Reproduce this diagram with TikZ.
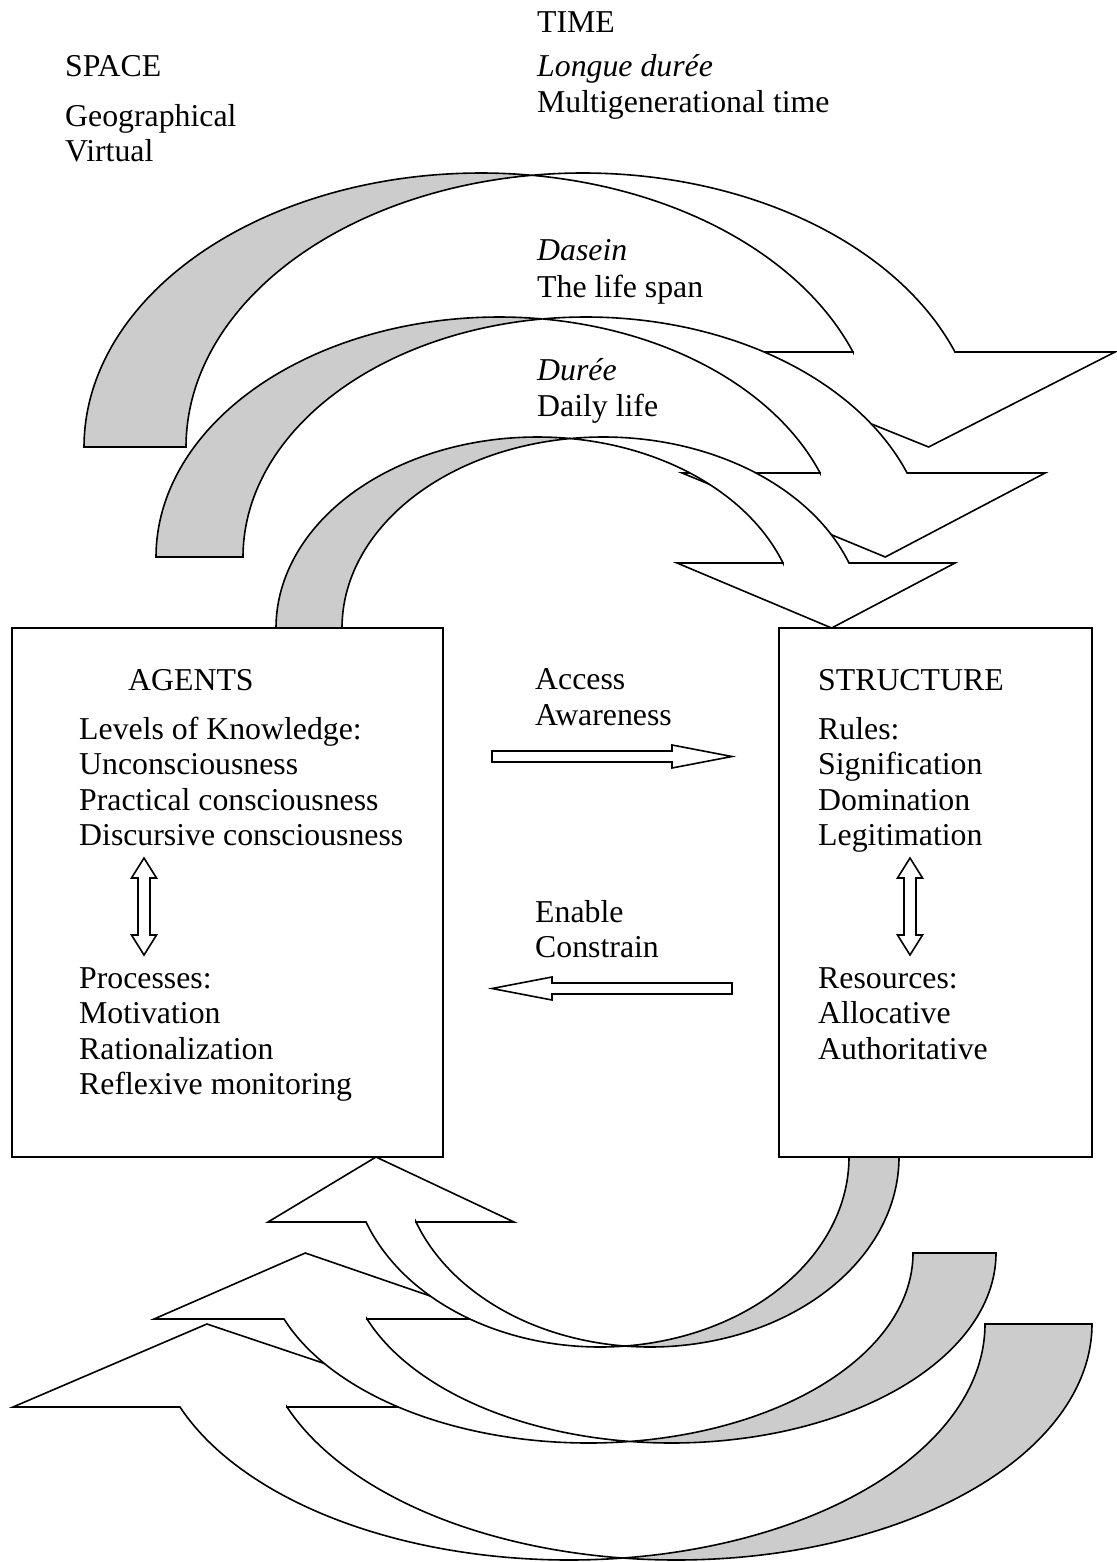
\documentclass[tikz,border=0pt]{standalone}
\usepackage{fontspec}
\setmainfont{Liberation Serif}
\definecolor{bandgray}{gray}{0.8}
\tikzset{
  txt/.style={anchor=base west, inner sep=0pt, font=\fontsize{31.8}{36}\selectfont},
  itxt/.style={anchor=base west, inner sep=0pt, font=\fontsize{31.8}{36}\selectfont\itshape},
  boxnode/.style={draw, line width=1.6pt, rectangle, inner sep=0pt},
  backband/.style={fill=bandgray, draw=black, line width=1.6pt, line join=miter},
  frontband/.style={fill=white, draw=black, line width=1.6pt, line join=miter},
  blockarrow/.style={fill=white, draw=black, line width=1.6pt, line join=miter}
}
% curved arrow: #1 cx, #2 cy, #3 a, #4 b, #5 band, #6 head-base offset, #7 head overhang, #8 rotation
\newcommand{\crvarrow}[8]{%
  \pgfmathsetmacro{\crvta}{acos(#5/(2*#3))}%
  \pgfmathsetmacro{\crvtb}{180-\crvta}%
  \pgfmathsetmacro{\crvth}{asin(#6/#4)}%
  \pgfmathsetmacro{\crvib}{#3*cos(\crvth)}%
  \pgfmathsetmacro{\crvob}{#5+#3*cos(\crvth)}%
  \begin{scope}[shift={(#1,#2)},rotate=#8]
    \path[backband] plot[domain=180:\crvta,samples=90] ({#3*cos(\x)},{-#4*sin(\x)})
      -- plot[domain=\crvtb:180,samples=90] ({#5+#3*cos(\x)},{-#4*sin(\x)}) -- cycle;
    \path[frontband] plot[domain=\crvtb:\crvth,samples=120] ({#5+#3*cos(\x)},{-#4*sin(\x)})
      -- ({\crvob+#7},{-#6}) -- ({#3+#5/2},0) -- ({\crvib-#7},{-#6}) -- ({\crvib},{-#6})
      -- plot[domain=\crvth:\crvta,samples=120] ({#3*cos(\x)},{-#4*sin(\x)}) -- cycle;
  \end{scope}}
% vertical double arrow: #1 x, #2 top, #3 bottom
\newcommand{\vdarrow}[3]{%
  \path[blockarrow] (#1,#2) -- ++(12.5,20) -- ++(-6.5,0) -- (#1+6,#3-20) -- ++(6.5,0) -- (#1,#3)
    -- ++(-12.5,-20) -- ++(6.5,0) -- (#1-6,#2+20) -- ++(-6.5,0) -- cycle;}
\begin{document}
\begin{tikzpicture}[x=1pt,y=-1pt]
\useasboundingbox (0,0) rectangle (1116,1562);

% top curved arrows (time scales)
\crvarrow{480.8}{447}{396.8}{274}{102}{95}{160}{0}
\crvarrow{498.9}{557}{342.9}{240}{87}{84}{138}{0}
\crvarrow{537.3}{628}{261.3}{191}{66}{65}{106}{0}
% bottom curved arrows
\crvarrow{676.2}{1324}{415.8}{236}{107}{83}{167}{180}
\crvarrow{671.4}{1253}{324.6}{190}{83}{66}{130}{180}
\crvarrow{650}{1157}{249}{190}{50}{65}{98}{180}

% boxes
\node[boxnode, minimum width=431pt, minimum height=529pt] (agents) at (227.5,892.5) {};
\node[boxnode, minimum width=313pt, minimum height=529pt] (structure) at (935.5,892.5) {};

% top texts
\node[txt] (time) at (537,33) {TIME};
\node[txt] (space) at (65,77) {SPACE};
\node[itxt] (longue) at (537,77) {Longue durée};
\node[txt] (multigen) at (537,113) {Multigenerational time};
\node[txt] (geo) at (65,127) {Geographical};
\node[txt] (virtual) at (65,162) {Virtual};
\node[itxt] (dasein) at (537,260) {Dasein};
\node[txt] (lifespan) at (537,297) {The life span};
\node[itxt] (duree) at (537,380) {Durée};
\node[txt] (daily) at (537,416) {Daily life};

% agents texts
\node[txt] (agtitle) at (128,690) {AGENTS};
\node[txt] (levels) at (79,739) {Levels of Knowledge:};
\node[txt] (uncons) at (79,774) {Unconsciousness};
\node[txt] (practical) at (79,810) {Practical consciousness};
\node[txt] (discursive) at (79,845) {Discursive consciousness};
\node[txt] (processes) at (79,988) {Processes:};
\node[txt] (motivation) at (79,1023) {Motivation};
\node[txt] (rational) at (79,1059) {Rationalization};
\node[txt] (reflexive) at (79,1094) {Reflexive monitoring};

% structure texts
\node[txt] (sttitle) at (818,690) {STRUCTURE};
\node[txt] (rules) at (818,739) {Rules:};
\node[txt] (signif) at (818,774) {Signification};
\node[txt] (domin) at (818,810) {Domination};
\node[txt] (legit) at (818,845) {Legitimation};
\node[txt] (resources) at (818,988) {Resources:};
\node[txt] (alloc) at (818,1023) {Allocative};
\node[txt] (author) at (818,1059) {Authoritative};

% middle texts
\node[txt] (access) at (535,689) {Access};
\node[txt] (aware) at (535,725) {Awareness};
\node[txt] (enable) at (535,922) {Enable};
\node[txt] (constrain) at (535,957) {Constrain};

% horizontal block arrows
\coordinate (accS) at (492,756.5);
\coordinate (accE) at (732,756.5);
\path[blockarrow] (accS) ++(0,-5.5) -- ++(180,0) -- ++(0,-6) -- (accE) -- ++(-60,11.5) -- ++(0,-6) -- ++(-180,0) -- cycle;
\coordinate (enS) at (732,988.5);
\coordinate (enE) at (492,988.5);
\path[blockarrow] (enS) ++(0,-5.5) -- ++(-180,0) -- ++(0,-6) -- (enE) -- ++(60,11.5) -- ++(0,-6) -- ++(180,0) -- cycle;

% vertical double arrows
\vdarrow{144}{858}{955}
\vdarrow{910}{858}{955}
\end{tikzpicture}
\end{document}
